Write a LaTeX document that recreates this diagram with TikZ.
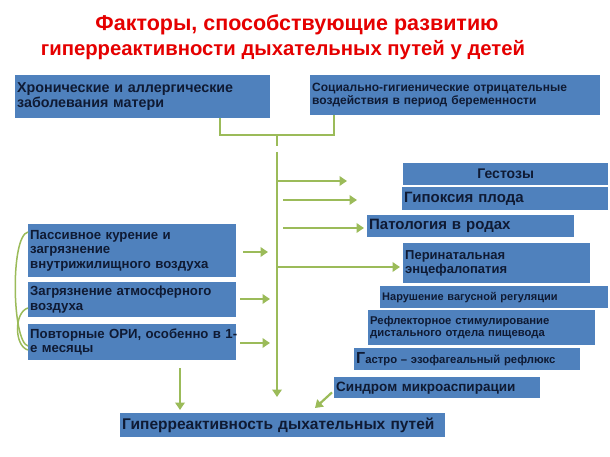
\documentclass[tikz,border=0pt]{standalone}
\usepackage{fontspec}
\setmainfont{Liberation Sans}
\usetikzlibrary{arrows.meta}
\definecolor{bx}{HTML}{4F81BD}
\definecolor{ln}{HTML}{9BBB59}
\definecolor{tx}{HTML}{0F1A33}
\tikzset{
 box/.style={fill=bx,anchor=north west,inner xsep=2pt,inner ysep=0pt,align=left,text=tx,font=\bfseries,minimum height=#1},
 conn/.style={draw=ln,line width=2.2pt},
 arr/.style={conn,-{Triangle[length=7.5pt,width=9.5pt]}},
 fs/.style={font=\fontsize{#1}{1.1\dimexpr#1pt\relax}\selectfont\bfseries},
 ttl/.style={text=red!90!black,font=\fontsize{#1}{#1}\selectfont\bfseries}
}
\begin{document}
\begin{tikzpicture}[x=1pt,y=-1pt]
\useasboundingbox (0,0) rectangle (610,457);
\fill[white] (0,0) rectangle (610,457);
\node[ttl=21.5] (title1) at (297,25) {Факторы, способствующие развитию};
\node[ttl=20.3] (title2) at (283,50) {гиперреактивности дыхательных путей у детей};
\node[box=43pt,text width=251pt,fs=14.3] (m1) at (15,75) {Хронические и аллергические\\заболевания матери};
\node[box=40pt,text width=286pt,fs=12] (m2) at (310,75) {Социально-гигиенические отрицательные\\воздействия в период беременности};
\node[box=22pt,text width=201pt,fs=14,align=center] (r1) at (403,163) {Гестозы};
\node[box=23pt,text width=202pt,fs=15] (r2) at (402,187) {Гипоксия плода};
\node[box=22pt,text width=203pt,fs=15] (r3) at (367,215) {Патология в родах};
\node[box=40pt,text width=183pt,fs=13] (r4) at (403,243) {Перинатальная\\энцефалопатия};
\node[box=22pt,text width=224pt,fs=11] (r5) at (380,286) {Нарушение вагусной регуляции};
\node[box=35pt,text width=223pt,fs=11.3] (r6) at (368,310) {Рефлекторное стимулирование\\дистального отдела пищевода};
\node[box=22pt,text width=222pt,fs=11.3] (r7) at (354,348) {{\fontsize{16}{16}\selectfont Г}астро – эзофагеальный рефлюкс};
\node[box=21pt,text width=202pt,fs=13.5] (r8) at (334,377) {Синдром микроаспирации};
\node[box=53pt,text width=204pt,fs=13.2] (l1) at (28,224) {Пассивное курение и\\загрязнение\\внутрижилищного воздуха};
\node[box=35pt,text width=204pt,fs=13.2] (l2) at (28,282) {Загрязнение атмосферного\\воздуха};
\node[box=36pt,text width=204pt,fs=13.2] (l3) at (28,324) {\makebox[204pt][l]{Повторные ОРИ, особенно в 1-}\\е месяцы};
\node[box=24pt,text width=321pt,fs=15.5] (h) at (120,413) {Гиперреактивность дыхательных путей};
% bracket
\coordinate (b1) at (220,135); \coordinate (b2) at (334,135);
\draw[conn] (m1.south -| b1) -- (b1) -- (b2) -- (m2.south -| b2);
\draw[conn] (277,135) -- (277,146);
\coordinate (vt) at (277,152); \coordinate (vb) at (277,397);
\draw[arr] (vt) -- (vb);
\draw[arr] (277,181) -- (347,181);
\draw[arr] (283,200) -- (357,200);
\draw[arr] (283,228) -- (364,228);
\draw[arr] (277,267) -- (400,267);
\draw[arr] (243,252) -- (268,252);
\draw[arr] (240,299) -- (270,299);
\draw[arr] (240,343) -- (270,343);
\draw[arr] (180,368) -- (180,410);
\draw[arr] (r8.south west) ++(-2,-6) -- (315,408);
% side curves
\draw[conn,line width=1.5pt] (l1.west |- 0,232) .. controls (10,236) and (12,342) .. (l3.west |- 0,346);
\draw[conn,line width=1.5pt] (l2.west |- 0,308) .. controls (14,312) and (14,346) .. (l3.west |- 0,350);
\end{tikzpicture}
\end{document}
